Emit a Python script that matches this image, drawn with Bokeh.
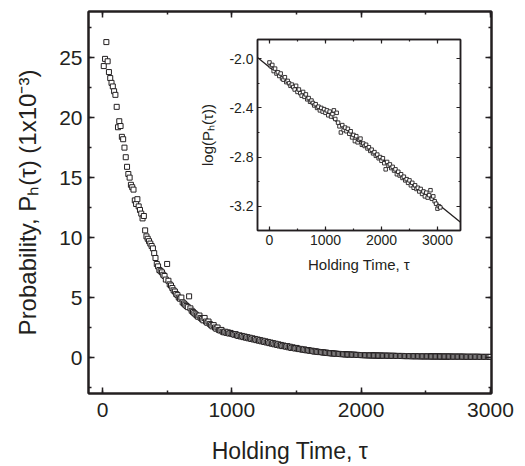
from bokeh.plotting import figure
from bokeh.models import LinearAxis, SingleIntervalTicker, Range1d, PrintfTickFormatter
from bokeh.layouts import column
from bokeh.embed import file_html
from bokeh.resources import INLINE

# ---------------- data ----------------
hold_time = [
    10, 20, 30, 40, 50, 60, 70, 80, 90, 100,
    110, 120, 130, 140, 150, 160, 170, 180, 190, 200,
    210, 220, 230, 240, 250, 260, 270, 280, 290, 300,
    310, 320, 330, 340, 350, 360, 370, 380, 390, 400,
    410, 420, 430, 440, 450, 460, 470, 480, 490, 500,
    510, 520, 530, 540, 550, 560, 570, 580, 590, 600,
    610, 620, 630, 640, 650, 660, 670, 680, 690, 700,
    710, 720, 730, 740, 750, 760, 770, 780, 790, 800,
    810, 820, 830, 840, 850, 860, 870, 880, 890, 900,
    910, 920, 930, 940, 950, 960, 970, 980, 990, 1000,
    1010, 1020, 1030, 1040, 1050, 1060, 1070, 1080, 1090, 1100,
    1110, 1120, 1130, 1140, 1150, 1160, 1170, 1180, 1190, 1200,
    1210, 1220, 1230, 1240, 1250, 1260, 1270, 1280, 1290, 1300,
    1310, 1320, 1330, 1340, 1350, 1360, 1370, 1380, 1390, 1400,
    1410, 1420, 1430, 1440, 1450, 1460, 1470, 1480, 1490, 1500,
    1510, 1520, 1530, 1540, 1550, 1560, 1570, 1580, 1590, 1600,
    1610, 1620, 1630, 1640, 1650, 1660, 1670, 1680, 1690, 1700,
    1710, 1720, 1730, 1740, 1750, 1760, 1770, 1780, 1790, 1800,
    1810, 1820, 1830, 1840, 1850, 1860, 1870, 1880, 1890, 1900,
    1910, 1920, 1930, 1940, 1950, 1960, 1970, 1980, 1990, 2000,
    2010, 2020, 2030, 2040, 2050, 2060, 2070, 2080, 2090, 2100,
    2110, 2120, 2130, 2140, 2150, 2160, 2170, 2180, 2190, 2200,
    2210, 2220, 2230, 2240, 2250, 2260, 2270, 2280, 2290, 2300,
    2310, 2320, 2330, 2340, 2350, 2360, 2370, 2380, 2390, 2400,
    2410, 2420, 2430, 2440, 2450, 2460, 2470, 2480, 2490, 2500,
    2510, 2520, 2530, 2540, 2550, 2560, 2570, 2580, 2590, 2600,
    2610, 2620, 2630, 2640, 2650, 2660, 2670, 2680, 2690, 2700,
    2710, 2720, 2730, 2740, 2750, 2760, 2770, 2780, 2790, 2800,
    2810, 2820, 2830, 2840, 2850, 2860, 2870, 2880, 2890, 2900,
    2910, 2920, 2930, 2940, 2950, 2960, 2970, 2980, 2990, 3000,
]
probability = [
    24.3, 24.9, 26.3, 24.7, 23.8, 23.3, 22.9, 22.6, 22.2, 21.9,
    20.9, 19.2, 19.7, 19.3, 18.4, 18.2, 17.5, 16.7, 15.9, 15.3,
    15.0, 14.4, 14.2, 14.0, 13.1, 12.8, 13.2, 12.6, 12.3, 12.0,
    11.6, 11.8, 10.6, 10.1, 9.9, 9.7, 9.5, 9.3, 9.1, 8.7,
    8.3, 7.8, 7.6, 7.3, 7.2, 7.1, 6.9, 6.8, 6.5, 7.8,
    6.4, 6.1, 6.0, 5.8, 5.6, 5.5, 5.3, 5.2, 5.0, 4.9,
    5.0, 4.6, 4.5, 4.4, 4.3, 4.2, 5.1, 4.1, 3.9, 3.8,
    3.7, 3.6, 3.5, 3.4, 3.5, 3.3, 3.2, 3.1, 3.3, 3.0,
    2.9, 3.0, 2.8, 2.7, 2.6, 2.7, 2.5, 2.4, 2.5, 2.3,
    2.25, 2.3, 2.15, 2.1, 2.15, 2.05, 2.1, 2.0, 2.05, 1.98,
    1.95, 1.9, 1.95, 1.85, 1.8, 1.85, 1.75, 1.8, 1.7, 1.75,
    1.65, 1.7, 1.6, 1.65, 1.55, 1.6, 1.5, 1.55, 1.45, 1.5,
    1.4, 1.45, 1.35, 1.4, 1.3, 1.35, 1.25, 1.3, 1.2, 1.25,
    1.15, 1.2, 1.1, 1.15, 1.05, 1.1, 1.0, 1.05, 0.95, 1.0,
    0.95, 0.9, 0.95, 0.85, 0.9, 0.8, 0.85, 0.8, 0.75, 0.8,
    0.75, 0.7, 0.72, 0.68, 0.65, 0.68, 0.62, 0.6, 0.62, 0.58,
    0.55, 0.57, 0.52, 0.5, 0.52, 0.48, 0.47, 0.45, 0.46, 0.43,
    0.42, 0.4, 0.41, 0.38, 0.37, 0.36, 0.35, 0.34, 0.34, 0.32,
    0.31, 0.3, 0.3, 0.29, 0.28, 0.28, 0.27, 0.26, 0.26, 0.25,
    0.25, 0.24, 0.24, 0.23, 0.23, 0.22, 0.22, 0.21, 0.21, 0.2,
    0.2, 0.2, 0.19, 0.19, 0.19, 0.18, 0.18, 0.18, 0.17, 0.17,
    0.17, 0.17, 0.16, 0.16, 0.16, 0.16, 0.15, 0.15, 0.15, 0.15,
    0.15, 0.14, 0.14, 0.14, 0.14, 0.14, 0.13, 0.13, 0.13, 0.13,
    0.13, 0.13, 0.12, 0.12, 0.12, 0.12, 0.12, 0.12, 0.11, 0.11,
    0.11, 0.11, 0.11, 0.11, 0.11, 0.1, 0.1, 0.1, 0.1, 0.1,
    0.1, 0.1, 0.1, 0.09, 0.09, 0.09, 0.09, 0.09, 0.09, 0.09,
    0.09, 0.08, 0.08, 0.08, 0.08, 0.08, 0.08, 0.08, 0.08, 0.07,
    0.07, 0.07, 0.07, 0.07, 0.07, 0.07, 0.07, 0.07, 0.07, 0.06,
    0.06, 0.06, 0.06, 0.06, 0.06, 0.06, 0.06, 0.06, 0.06, 0.06,
    0.06, 0.05, 0.05, 0.05, 0.05, 0.05, 0.05, 0.05, 0.05, 0.05,
]

inset_time = [
    0, 25, 50, 75, 100, 125, 150, 175, 200, 225,
    250, 275, 300, 325, 350, 375, 400, 425, 450, 475,
    500, 525, 550, 575, 600, 625, 650, 675, 700, 725,
    750, 775, 800, 825, 850, 875, 900, 925, 950, 975,
    1000, 1025, 1050, 1075, 1100, 1125, 1150, 1175, 1200, 1225,
    1250, 1275, 1300, 1325, 1350, 1375, 1400, 1425, 1450, 1475,
    1500, 1525, 1550, 1575, 1600, 1625, 1650, 1675, 1700, 1725,
    1750, 1775, 1800, 1825, 1850, 1875, 1900, 1925, 1950, 1975,
    2000, 2025, 2050, 2075, 2100, 2125, 2150, 2175, 2200, 2225,
    2250, 2275, 2300, 2325, 2350, 2375, 2400, 2425, 2450, 2475,
    2500, 2525, 2550, 2575, 2600, 2625, 2650, 2675, 2700, 2725,
    2750, 2775, 2800, 2825, 2850, 2875, 2900, 2925, 2950, 2975,
    3000, 3025, 3050,
]
inset_logp = [
    -2.03, -2.06, -2.05, -2.10, -2.08, -2.12, -2.11, -2.14, -2.12, -2.16,
    -2.17, -2.15, -2.19, -2.18, -2.20, -2.22, -2.21, -2.23, -2.25, -2.22,
    -2.27, -2.25, -2.28, -2.30, -2.27, -2.31, -2.29, -2.33, -2.32, -2.35,
    -2.34, -2.36, -2.38, -2.37, -2.40, -2.39, -2.42, -2.40, -2.43, -2.41,
    -2.44, -2.42, -2.46, -2.43, -2.47, -2.45, -2.42, -2.49, -2.44, -2.52,
    -2.55, -2.60, -2.54, -2.58, -2.56, -2.59, -2.57, -2.61, -2.59, -2.64,
    -2.62, -2.67, -2.63, -2.68, -2.66, -2.65, -2.70, -2.69, -2.71, -2.70,
    -2.73, -2.72, -2.75, -2.74, -2.77, -2.76, -2.79, -2.78, -2.81, -2.80,
    -2.83, -2.81, -2.85, -2.90, -2.84, -2.87, -2.86, -2.89, -2.88, -2.91,
    -2.90, -2.94, -2.92, -2.95, -2.94, -2.97, -2.96, -2.99, -2.98, -3.01,
    -2.99, -3.03, -3.01, -3.05, -3.03, -3.06, -3.05, -3.08, -3.06, -3.10,
    -3.08, -3.12, -3.09, -3.13, -3.11, -3.07, -3.14, -3.12, -3.16, -3.18,
    -3.22, -3.20, -3.21,
]
fit_time = [-214, 3411]
fit_logp = [-1.99, -3.33]

INK = "#231f20"
FONT = "Liberation Sans"


def style_axis(ax, line_w, tick_in, minor_in, tick_w, tick_size, label_size):
    ax.axis_line_color = INK
    ax.axis_line_width = line_w
    ax.major_tick_in = tick_in
    ax.major_tick_out = 0
    ax.minor_tick_in = minor_in
    ax.minor_tick_out = 0
    ax.major_tick_line_color = INK
    ax.major_tick_line_width = tick_w
    ax.minor_tick_line_color = INK
    ax.minor_tick_line_width = tick_w
    ax.major_label_text_font = FONT
    ax.major_label_text_font_size = tick_size
    ax.major_label_text_color = INK
    ax.axis_label_text_font = FONT
    ax.axis_label_text_font_size = label_size
    ax.axis_label_text_font_style = "normal"
    ax.axis_label_text_color = INK


def mirror_only(ax):
    ax.major_label_text_color = None
    ax.major_label_text_font_size = "1px"
    ax.major_label_standoff = 0
    ax.axis_label = None


# ---------------- main plot ----------------
MAIN_LEFT, MAIN_FW, MAIN_RIGHT = 88, 403, 25
MAIN_TOP, MAIN_FH, MAIN_BOTTOM = 11, 382, 73
p = figure(
    frame_width=MAIN_FW, frame_height=MAIN_FH,
    min_border_left=MAIN_LEFT, min_border_right=MAIN_RIGHT,
    min_border_top=MAIN_TOP, min_border_bottom=MAIN_BOTTOM,
    x_range=Range1d(-108, 3008), y_range=Range1d(-3.0, 28.85),
    output_backend="svg", toolbar_location=None,
    background_fill_color="white", border_fill_color="white",
    align="start",
)
p.outline_line_color = INK
p.outline_line_width = 2
p.grid.visible = False

xt = SingleIntervalTicker(interval=1000, num_minor_ticks=2)
yt = SingleIntervalTicker(interval=5, num_minor_ticks=2)
main_x = p.below[0]
main_y = p.left[0]
main_x.ticker = xt
main_y.ticker = yt
main_x.axis_label = "Holding Time, τ"
main_y.axis_label = "Probability, Pₕ(τ) (1x10⁻³)"
style_axis(main_x, 2, 6, 3, 1.5, "21px", "23px")
style_axis(main_y, 2, 6, 3, 1.5, "21px", "24px")
main_x.major_label_standoff = 9
main_x.axis_label_standoff = 18
main_y.major_label_standoff = 6
main_y.axis_label_standoff = 15

top_ax = LinearAxis(ticker=xt)
right_ax = LinearAxis(ticker=yt)
for ax in (top_ax, right_ax):
    style_axis(ax, 2, 6, 3, 1.5, "21px", "23px")
    mirror_only(ax)
p.add_layout(top_ax, "above")
p.add_layout(right_ax, "right")

p.scatter(hold_time, probability, marker="square", size=5,
          line_color=INK, line_width=1, fill_color="white")

# ---------------- inset ----------------
# in a column Bokeh aligns the plots' frame edges, so the inset keeps the
# same border widths as the main plot and is shifted with a margin
IN_FRAME_LEFT, IN_FW = 257, 203
IN_TOP, IN_FH, IN_BOTTOM = 5, 191, 60
q = figure(
    frame_width=IN_FW, frame_height=IN_FH,
    min_border_left=MAIN_LEFT, min_border_right=MAIN_RIGHT,
    min_border_top=IN_TOP, min_border_bottom=IN_BOTTOM,
    x_range=Range1d(-214, 3411), y_range=Range1d(-3.398, -1.843),
    output_backend="svg", toolbar_location=None,
    background_fill_color="white", border_fill_color=None,
    align="start",
)
q.outline_line_color = INK
q.outline_line_width = 1.5
q.grid.visible = False

qxt = SingleIntervalTicker(interval=1000, num_minor_ticks=2)
qyt = SingleIntervalTicker(interval=0.4, num_minor_ticks=2)
in_x = q.below[0]
in_y = q.left[0]
in_x.ticker = qxt
in_y.ticker = qyt
in_y.formatter = PrintfTickFormatter(format="%.1f")
in_x.axis_label = "Holding Time, τ"
in_y.axis_label = "log(Pₕ(τ))"
style_axis(in_x, 1.5, 4, 2, 1.2, "14px", "15px")
style_axis(in_y, 1.5, 4, 2, 1.2, "14px", "15px")
in_x.major_label_standoff = 4
in_x.axis_label_standoff = 8
in_y.major_label_standoff = 4
in_y.axis_label_standoff = 10

q_top = LinearAxis(ticker=qxt)
q_right = LinearAxis(ticker=qyt)
for ax in (q_top, q_right):
    style_axis(ax, 1.5, 4, 2, 1.2, "14px", "15px")
    mirror_only(ax)
q.add_layout(q_top, "above")
q.add_layout(q_right, "right")

q.line(fit_time, fit_logp, line_color=INK, line_width=1.3)
q.scatter(inset_time, inset_logp, marker="square", size=3.5,
          line_color=INK, line_width=0.9, fill_color="white")

# place inset over the main plot (negative top margin pulls it up)
main_h = MAIN_TOP + MAIN_FH + MAIN_BOTTOM
inset_frame_top = 39
q.margin = (inset_frame_top - IN_TOP - main_h, 0, 0, IN_FRAME_LEFT - MAIN_LEFT)

layout = column(p, q, align="start")
open("out.html", "w").write(file_html(layout, INLINE))
